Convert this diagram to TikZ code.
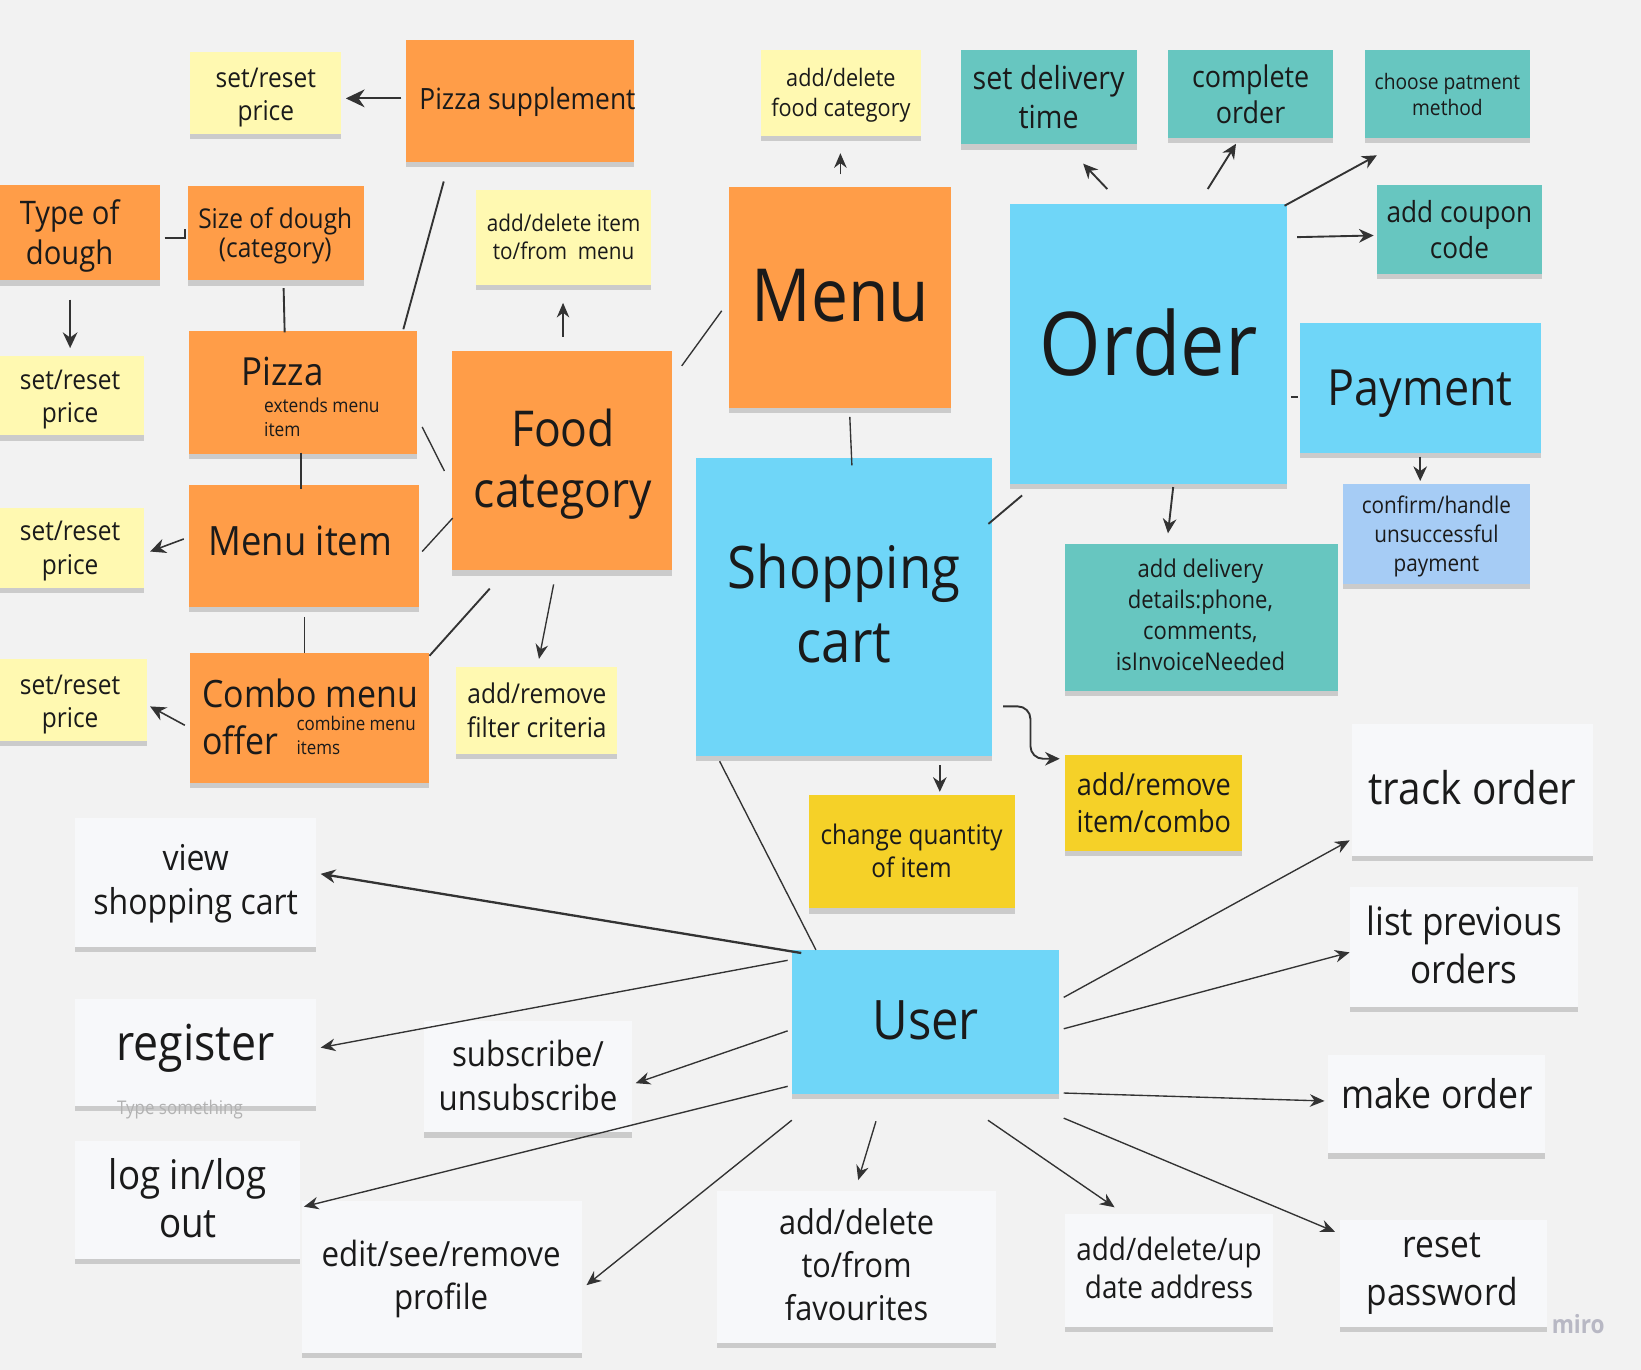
\documentclass[tikz,border=0pt]{standalone}
\usepackage{fontspec}
\setmainfont{Open Sans}[FakeStretch=0.9]
\usetikzlibrary{calc,arrows.meta,shadows}
\definecolor{bg}{HTML}{F2F2F2}
\definecolor{cOrange}{HTML}{FF9D48}
\definecolor{cLY}{HTML}{FFF9B1}
\definecolor{cY}{HTML}{F5D128}
\definecolor{cTeal}{HTML}{67C6C0}
\definecolor{cBlue}{HTML}{6FD6F8}
\definecolor{cLB}{HTML}{A6CCF5}
\definecolor{cW}{HTML}{F7F8FA}
\definecolor{ink}{HTML}{1A1A1A}
\definecolor{lncol}{HTML}{333333}
\definecolor{miroc}{HTML}{B8B8C4}
\tikzset{
  note/.style={rectangle, inner sep=0pt, draw=none,
    drop shadow={shadow xshift=0pt, shadow yshift=-2.5pt, opacity=0.16, fill=black}},
  txt/.style={inner sep=0pt, align=center, text=ink},
  fs/.style 2 args={font=\fontsize{#1}{#2}\selectfont},
  tshift/.style 2 args={shift={(#1,#2)}},
  ln/.style={draw=lncol, line width=0.9pt},
  arr/.style={ln, -{Stealth[length=7pt,width=6.5pt]}},
  thinln/.style={draw=lncol, line width=0.65pt},
  thinarr/.style={thinln, -{Stealth[length=7pt,width=6pt]}},
  midarr/.style={draw=lncol, line width=0.75pt, -{Stealth[length=7.5pt,width=7pt]}},
}
\newcommand\stk[8]{%
  \node[note, fill=#2, minimum width={((#5)-(#3))*0.5pt}, minimum height={((#6)-(#4))*0.5pt}]
    (#1) at ({((#3)+(#5))/2},{((#4)+(#6))/2}) {};
  \node[txt, #7] (#1-t) at (#1.center) {#8};
}
\begin{document}
\begin{tikzpicture}[x=0.5pt,y=-0.5pt]
\useasboundingbox (0,0) rectangle (1568,1309);
\fill[bg] (0,0) rectangle (1568,1309);

% ---- orange / yellow cluster (left)
\stk{srpA}{cLY}{182}{50}{326}{128}{fs={13}{16}, tshift={0}{4}}{set/reset\\price}
\stk{pizzasup}{cOrange}{388}{38}{606}{155}{fs={14}{17}, tshift={7}{0.5}}{Pizza supplement}
\stk{typedough}{cOrange}{-20}{177}{153}{268}{fs={15.5}{19}, tshift={0}{3}}{Type of\\dough}
\stk{sizedough}{cOrange}{180}{178}{348}{268}{fs={13}{14}, tshift={-1}{2.5}}{Size of dough\\(category)}
\stk{srpB}{cLY}{-4}{340}{138}{416}{fs={13}{16}, tshift={0}{4}}{set/reset\\price}
\stk{srpC}{cLY}{-4}{485}{138}{562}{fs={13}{16}, tshift={0}{3}}{set/reset\\price}
\stk{srpD}{cLY}{-6}{630}{140}{708}{fs={13}{16}, tshift={0}{4}}{set/reset\\price}
\stk{pizza}{cOrange}{181}{316}{398}{434}{fs={18.5}{22}, tshift={-19.5}{-20}}{Pizza}
\node[txt, fs={9.2}{11.5}, align=left, anchor=west] (pizza-s) at (252,398.5) {extends menu\\item};
\stk{menuitem}{cOrange}{181}{463}{400}{580}{fs={19.3}{23}, tshift={-3.5}{-4.5}}{Menu item}
\node[note, fill=cOrange, minimum width=114pt, minimum height=62pt] (combo) at (296,686) {};
\node[txt, fs={18}{22}, align=left, anchor=west] (combo-t) at (193,685) {Combo menu\\offer};
\node[txt, fs={9}{11.5}, align=left, anchor=west] (combo-s) at (283,702.5) {combine menu\\items};
\stk{addDelItem}{cLY}{455}{182}{622}{272}{fs={11}{13.5}, tshift={0}{-1}}{add/delete item\\to/from\ \ menu}
\stk{food}{cOrange}{432}{335}{642}{545}{fs={23.6}{29.5}, tshift={1}{3.5}}{Food\\category}
\stk{addremFilter}{cLY}{436}{637}{590}{720}{fs={13}{16}}{add/remove\\filter criteria}
\stk{addDelFood}{cLY}{727}{48}{880}{130}{fs={11.5}{14.5}, tshift={0}{2}}{add/delete\\food category}
\stk{menu}{cOrange}{697}{179}{909}{390}{fs={35}{40}, tshift={0}{-1.5}}{Menu}

% ---- order cluster
\stk{setdel}{cTeal}{918}{48}{1086}{138}{fs={15.2}{18.5}}{set delivery\\time}
\stk{complete}{cTeal}{1116}{48}{1274}{132}{fs={14.3}{17.5}}{complete\\order}
\stk{choosepay}{cTeal}{1304}{48}{1462}{132}{fs={10.2}{12.5}}{choose patment\\method}
\stk{coupon}{cTeal}{1316}{177}{1473}{262}{fs={13.9}{17.5}}{add coupon\\code}
\stk{order}{cBlue}{965}{195}{1230}{462}{fs={42}{48}, tshift={0}{-1}}{Order}
\stk{payment}{cBlue}{1242}{309}{1472}{433}{fs={23.8}{28}, tshift={0}{5}}{Payment}
\stk{confirm}{cLB}{1283}{462}{1462}{558}{fs={11}{13.8}, tshift={0}{2.5}}{confirm/handle\\unsuccessful\\payment}
\stk{delivdet}{cTeal}{1018}{520}{1278}{660}{fs={11.7}{14.8}, tshift={-1}{-2.5}}{add delivery\\details:phone,\\comments,\\isInvoiceNeeded}
\stk{cart}{cBlue}{665}{438}{948}{722}{fs={28}{35.5}, tshift={0}{-3.5}}{Shopping\\cart}
\stk{chgqty}{cY}{773}{760}{970}{868}{fs={12.9}{16}, tshift={-0.5}{-1}}{change quantity\\of item}
\stk{addremItem}{cY}{1018}{721}{1187}{813}{fs={14.4}{17.5}}{add/remove\\item/combo}

% ---- user cluster
\stk{user}{cBlue}{757}{908}{1012}{1045}{fs={26}{30}, tshift={0}{-1.5}}{User}
\stk{viewcart}{cW}{72}{782}{302}{905}{fs={17}{21}, tshift={0}{0.5}}{view\\shopping cart}
\stk{register}{cW}{72}{955}{302}{1057}{fs={23.7}{28}, tshift={0}{-4}}{register}
\node[inner sep=0pt, text=black!30, fs={9}{11}] (typesth) at (172,1060) {Type something};
\stk{subscribe}{cW}{405}{976}{604}{1082}{fs={16.6}{21}, tshift={0}{-1}}{subscribe/\\unsubscribe}
\stk{login}{cW}{72}{1090}{287}{1203}{fs={19.5}{23}, tshift={0}{-1.5}}{log in/log\\out}
\stk{editprof}{cW}{289}{1148}{556}{1293}{fs={16.6}{20.5}, tshift={-1}{2}}{edit/see/remove\\profile}
\stk{fav}{cW}{685}{1138}{952}{1283}{fs={16.3}{20.5}, tshift={0}{-2}}{add/delete\\to/from\\favourites}
\stk{addr}{cW}{1018}{1160}{1216}{1268}{fs={14.8}{18.5}, tshift={0}{-2.5}}{add/delete/up\\date address}
\stk{reset}{cW}{1280}{1166}{1478}{1268}{fs={17.8}{22.5}, tshift={-1}{0}}{reset\\password}
\stk{makeorder}{cW}{1269}{1008}{1476}{1102}{fs={18.9}{22}, tshift={0.5}{-10}}{make order}
\stk{listprev}{cW}{1290}{848}{1508}{962}{fs={18.6}{23}, tshift={0}{-2.5}}{list previous\\orders}
\stk{track}{cW}{1292}{692}{1522}{818}{fs={21.5}{25}, tshift={0}{-2}}{track order}
\node[inner sep=0pt, text=miroc, fs={12}{14}] (miro) at (1508,1265) {\bfseries miro};

% ---- connectors (left cluster)
\draw[arr, -{Stealth[length=9pt,width=8.5pt]}] ($(pizzasup.west)+(-4,-2.5)$) -- ($(srpA.east)+(4,5)$);
\draw[ln] ($(typedough.east)+(4,4.5)$) -| ($(sizedough.west)+(-3,-4)$);
\draw[arr, -{Stealth[length=7.5pt,width=7pt]}] ($(typedough.south)+(0.5,18)$) -- ($(srpB.north)+(0,-7)$);
\draw[ln] ($(sizedough.south)+(7,7)$) -- ($(pizza.north)+(-17.5,2)$);
\draw[ln] ($(pizzasup.south)+(-73,18)$) -- ($(pizza.north east)+(-13,-1)$);
\draw[thinln] ($(pizza.east)+(5,33)$) -- ($(food.west)+(-7,10)$);
\draw[ln] ($(pizza.south)+(-1.5,-2)$) -- ($(menuitem.north)+(-2.5,5)$);
\draw[midarr] ($(menuitem.west)+(-5,-6.5)$) -- ($(srpC.east)+(5,3.5)$);
\draw[thinln] ($(menuitem.east)+(3,5.5)$) -- ($(food.west)+(1,55)$);
\draw[ln] ($(menuitem.south)+(0.5,9)$) -- ($(combo.north)+(-5,0)$);
\draw[midarr] ($(combo.west)+(-5,7)$) -- ($(srpD.east)+(3,6)$);
\draw[ln] ($(combo.north east)+(0,3)$) -- ($(food.south)+(-69,17)$);
\draw[thinarr] ($(food.south)+(-8,13)$) -- ($(addremFilter.north)+(2,-7)$);
\draw[thinarr] ($(food.north)+(1,-13)$) -- ($(addDelItem.south)+(-0.5,17)$);
\draw[thinln] ($(food.north east)+(9,15)$) -- ($(menu.west)+(-7,12.5)$);
\draw[thinarr] ($(menu.north)+(0,-12)$) -- ($(addDelFood.south)+(-0.5,16)$);
\draw[thinln] ($(menu.south)+(9,8)$) -- ($(cart.north)+(7.5,7)$);

% ---- connectors (order cluster)
\draw[ln] ($(cart.north east)+(-4,63)$) -- ($(order.south west)+(12,11)$);
\draw[arr] ($(order.north)+(-39.5,-14)$) -- ($(setdel.south)+(33,18)$);
\draw[arr] ($(order.north)+(56.5,-14)$) -- ($(complete.south)+(-14,5)$);
\draw[arr] ($(order.north east)+(-3,2)$) -- ($(choosepay.south west)+(12,16)$);
\draw[arr] ($(order.north east)+(9,32)$) -- ($(coupon.west)+(-3,5.5)$);
\draw[ln] ($(order.east)+(3,50.5)$) -- ($(payment.west)+(-1,8)$);
\draw[arr] ($(payment.south)+(0,3)$) -- ($(confirm.north)+(-15.5,-2)$);
\draw[arr] ($(order.south)+(23.5,3)$) -- ($(delivdet.north)+(-32,-10)$);
\draw[arr, rounded corners=6pt] ($(cart.east)+(10,95)$) -| ($(addremItem.west)+(-33,-42)$) -- ($(addremItem.west)+(-5,-42)$);
\draw[arr] ($(cart.south)+(91.5,9)$) -- ($(chgqty.north)+(26.5,-3)$);
\draw[thinln] ($(cart.south west)+(23,5)$) -- ($(user.north west)+(23,0)$);

% ---- connectors (user cluster)
\draw[arr, line width=1.1pt] ($(user.north west)+(9,3)$) -- ($(viewcart.east)+(4,-8.5)$);
\draw[thinarr] ($(user.north west)+(-4,10)$) -- ($(register.east)+(4,-5)$);
\draw[thinarr] ($(user.west)+(-4,8.5)$) -- ($(subscribe.east)+(3,6)$);
\draw[thinarr] ($(user.west)+(-4,61.5)$) -- ($(login.east)+(3,6.5)$);
\draw[thinarr] ($(user.south west)+(0,25)$) -- ($(editprof.east)+(4,7.5)$);
\draw[thinarr] ($(user.south)+(-47.5,26)$) -- ($(fav.north)+(1.5,-10)$);
\draw[thinarr] ($(user.south)+(59.5,25)$) -- ($(addr.north)+(-52,-6)$);
\draw[thinarr] ($(user.south east)+(4,23)$) -- ($(reset.west)+(-4,-40)$);
\draw[thinarr] ($(user.south east)+(4,-1)$) -- ($(makeorder.west)+(-3,-3)$);
\draw[thinarr] ($(user.east)+(4,6.5)$) -- ($(listprev.west)+(0,5)$);
\draw[thinarr] ($(user.east)+(4,-23.5)$) -- ($(track.west)+(-2,48)$);
\end{tikzpicture}
\end{document}
